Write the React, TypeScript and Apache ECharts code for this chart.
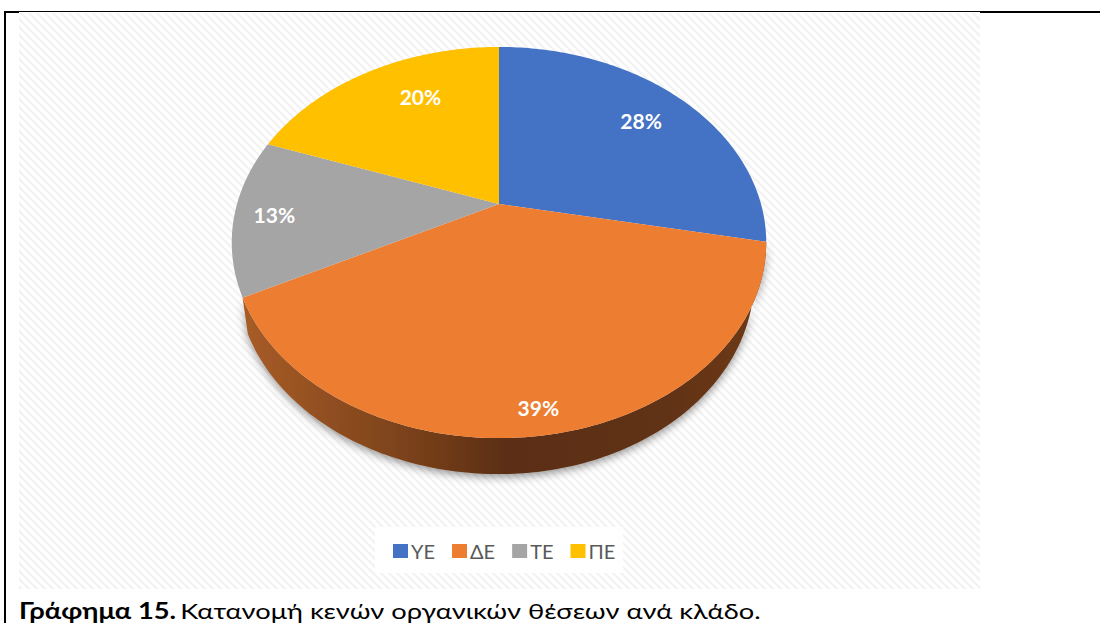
import React, { useEffect, useRef } from "react";
import * as echarts from "echarts";

const categories = ["ΥΕ", "ΔΕ", "ΤΕ", "ΠΕ"];
const values = [28.1, 39.4, 13.0, 19.5];
const colors = ["#4472C4", "#ED7D31", "#A5A5A5", "#FFC000"];
const captionBold = "Γράφημα 15.";
const captionRest = "Κατανομή κενών οργανικών θέσεων ανά κλάδο.";

const FONT = "Lato, 'Noto Sans', sans-serif";
// perspective layout of the disc
const CX = 499, CY = 204, R = 262, A = 188, K = 0.197, DEPTH = 36;
const BOTTOM_SCALE_LEFT = 0.98, BOTTOM_SCALE_RIGHT = 0.955;
const labelRadius = [0.77, 0.9, 0.85, 0.79];
const labelShift = [[0, 0], [0, 0], [0, 0], [27, 0]];

const total = values.reduce((a, b) => a + b, 0);
const project = (theta: number, f = 1): [number, number] => {
  const x = f * Math.sin(theta), y = f * Math.cos(theta);
  const w = 1 + K * y;
  return [CX + (R * x) / w, CY - (A * y) / w];
};
const startAngle = (i: number) =>
  (values.slice(0, i).reduce((a, b) => a + b, 0) / total) * Math.PI * 2;
const arc = (a0: number, a1: number) => {
  const pts: [number, number][] = [];
  const n = Math.max(8, Math.ceil((a1 - a0) * 60));
  for (let k = 0; k <= n; k++) pts.push(project(a0 + ((a1 - a0) * k) / n));
  return pts;
};

const makeHatch = () => {
  const s = 8;
  const c = document.createElement("canvas");
  c.width = s; c.height = s;
  const g = c.getContext("2d")!;
  g.fillStyle = "#ffffff";
  g.fillRect(0, 0, s, s);
  g.strokeStyle = "#f3f3f3";
  g.lineWidth = 2.6;
  for (let d = -s; d <= s; d += s) {
    g.beginPath(); g.moveTo(d, 0); g.lineTo(d + s, s); g.stroke();
  }
  return c;
};

export default function App() {
  const ref = useRef<HTMLDivElement>(null);
  useEffect(() => {
    const chart = echarts.init(ref.current!, undefined, { renderer: "svg" });
    const wallSeries = {
      type: "custom", name: "wall", coordinateSystem: "none", silent: true, z: 1,
      data: [values[1]],
      renderItem: () => {
        const a0 = startAngle(1), a1 = startAngle(2);
        const top = arc(a0, a1);
        const lower = top
          .map(([x, y]) => [CX + (x - CX) * (x > CX ? BOTTOM_SCALE_RIGHT : BOTTOM_SCALE_LEFT), y + DEPTH])
          .reverse();
        return {
          type: "polygon",
          shape: { points: [...top, ...lower] },
          style: {
            fill: new echarts.graphic.LinearGradient(0, 0, 1, 0, [
              { offset: 0, color: "#a85c27" },
              { offset: 0.3, color: "#7d431b" },
              { offset: 0.5, color: "#5c2f12" },
              { offset: 0.75, color: "#5e3013" },
              { offset: 1, color: "#6d3a17" },
            ]),
            shadowBlur: 9, shadowColor: "rgba(0,0,0,0.42)", shadowOffsetY: 3,
          },
        };
      },
    };
    const sliceSeries = categories.map((name, i) => ({
      type: "custom", name, coordinateSystem: "none", z: 2,
      itemStyle: { color: colors[i] },
      data: [values[i]],
      renderItem: () => {
        const a0 = startAngle(i), a1 = a0 + (values[i] / total) * Math.PI * 2;
        const [lx, ly] = project((a0 + a1) / 2, labelRadius[i]);
        return {
          type: "group",
          children: [
            { type: "polygon", shape: { points: [[CX, CY], ...arc(a0, a1)] }, style: { fill: colors[i] } },
            {
              type: "text", z2: 10,
              style: {
                x: lx + labelShift[i][0], y: ly + labelShift[i][1],
                text: `${Math.round(values[i])}%`, fill: "#ffffff",
                font: `bold 21px ${FONT}`, align: "center", verticalAlign: "middle",
              },
            },
          ],
        };
      },
    }));
    chart.setOption({
      animation: false,
      backgroundColor: "#ffffff",
      legend: {
        data: categories, left: 388, top: 536, icon: "rect",
        itemWidth: 15, itemHeight: 14, itemGap: 17, padding: 5,
        textStyle: { fontFamily: FONT, fontSize: 20, color: "#595959", padding: [0, 0, 0, -2] },
        selectedMode: false,
      },
      graphic: [
        { type: "rect", z: -10, shape: { x: 19, y: 13, width: 961, height: 576 }, style: { fill: { image: makeHatch(), repeat: "repeat" } } },
        { type: "rect", z: -9, shape: { x: 375, y: 527, width: 248, height: 46 }, style: { fill: "#ffffff" } },
        { type: "rect", z: 20, shape: { x: 5, y: 11, width: 1095, height: 1 }, style: { fill: "#000000" } },
        { type: "rect", z: 20, shape: { x: 5, y: 11, width: 14, height: 2 }, style: { fill: "#000000" } },
        { type: "rect", z: 20, shape: { x: 980, y: 11, width: 120, height: 2 }, style: { fill: "#000000" } },
        { type: "rect", z: 20, shape: { x: 4, y: 11, width: 2, height: 612 }, style: { fill: "#000000" } },
        {
          type: "text", z: 20, x: 19, y: 600, scaleX: 1.24,
          style: {
            text: `{b|${captionBold}} {r|${captionRest}}`,
            rich: {
              b: { font: `bold 22px ${FONT}`, fill: "#000000" },
              r: { font: `22px ${FONT}`, fill: "#000000" },
            },
          },
        },
      ],
      series: [wallSeries, ...sliceSeries],
    });
    return () => chart.dispose();
  }, []);
  return <div ref={ref} style={{ position: "fixed", left: 0, top: 0, width: 1100, height: 623 }} />;
}
